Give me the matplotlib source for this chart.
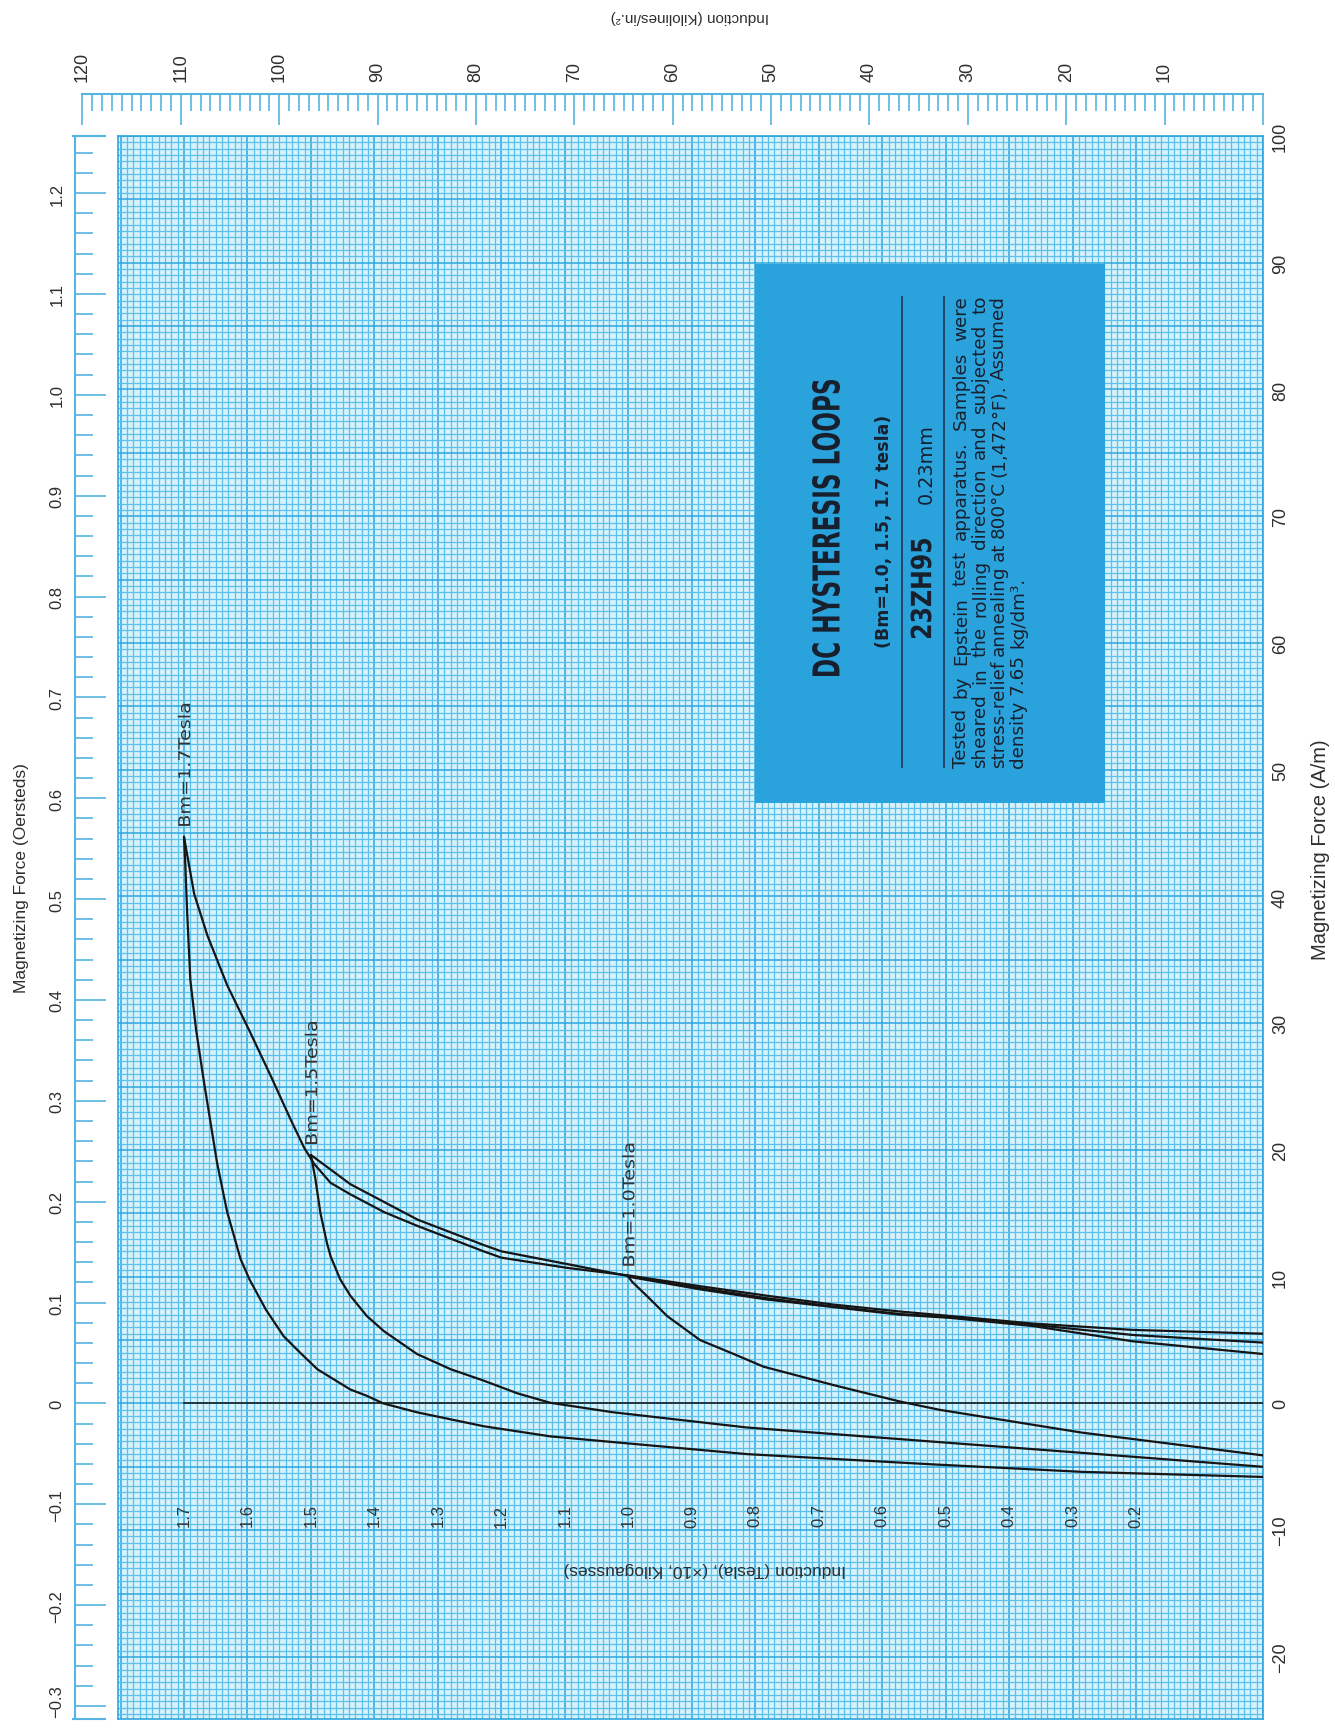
import numpy as np
import matplotlib
matplotlib.use("Agg")
import matplotlib.pyplot as plt
from matplotlib.ticker import MultipleLocator, FuncFormatter, NullLocator
from matplotlib.transforms import Affine2D, blended_transform_factory, IdentityTransform
from matplotlib.patches import Rectangle, PathPatch
from matplotlib.lines import Line2D
from matplotlib.textpath import TextPath
from matplotlib.font_manager import FontProperties

plt.rcParams['font.family'] = ['Liberation Sans', 'DejaVu Sans']

# ------------------------------------------------------------------ data
# Bm = 1.7 T loop : descending branch (from tip) and ascending branch (to tip)
B17_DESC = [1.700, 1.698, 1.695, 1.690, 1.681, 1.669, 1.648, 1.632, 1.624, 1.611,
            1.597, 1.571, 1.543, 1.517, 1.490, 1.464, 1.438, 1.412, 1.386, 1.333,
            1.228, 1.123, 1.024, 0.813, 0.524, 0.285, 0.0]
H17_DESC = [44.7, 42.6, 38.7, 33.4, 29.5, 25.5, 19.0, 15.1, 13.7, 11.4,
            9.8, 7.4, 5.3, 4.0, 2.7, 1.9, 1.1, 0.6, 0.0, -0.7,
            -1.8, -2.6, -3.05, -4.0, -4.8, -5.4, -5.8]
B17_ASC = [0.0, 0.205, 0.362, 0.493, 0.572, 0.677, 0.782, 0.887, 1.000, 1.097,
           1.200, 1.228, 1.332, 1.385, 1.438, 1.469, 1.495, 1.511, 1.532, 1.563,
           1.595, 1.632, 1.663, 1.684, 1.700]
H17_ASC = [5.5, 5.8, 6.3, 6.9, 7.25, 7.8, 8.5, 9.25, 10.1, 10.7,
           11.5, 12.0, 14.0, 15.1, 16.5, 17.4, 18.9, 20.2, 22.4, 25.8,
           29.2, 33.0, 36.9, 40.2, 44.7]

# Bm = 1.5 T loop
B15_DESC = [1.500, 1.493, 1.485, 1.475, 1.469, 1.454, 1.438, 1.412, 1.385, 1.333,
            1.280, 1.228, 1.175, 1.123, 1.024, 0.813, 0.524, 0.285, 0.0]
H15_DESC = [19.6, 17.7, 15.0, 12.7, 11.6, 9.8, 8.5, 6.9, 5.7, 3.9,
            2.7, 1.8, 0.8, 0.05, -0.7, -1.9, -3.0, -3.9, -5.0]
B15_ASC = [0.0, 0.205, 0.362, 0.493, 0.572, 0.677, 0.782, 0.887, 1.000, 1.097,
           1.200, 1.228, 1.332, 1.438, 1.500]
H15_ASC = [4.8, 5.4, 6.2, 6.8, 7.05, 7.65, 8.3, 9.1, 10.05, 11.0,
           12.0, 12.5, 14.5, 17.3, 19.6]

# Bm = 1.0 T loop
B10_DESC = [1.000, 0.994, 0.965, 0.939, 0.887, 0.834, 0.787, 0.677, 0.572, 0.510,
            0.286, 0.0]
H10_DESC = [10.0, 9.6, 8.2, 6.9, 5.0, 3.9, 2.9, 1.45, 0.15, -0.5,
            -2.3, -4.1]
B10_ASC = [0.0, 0.205, 0.362, 0.493, 0.572, 0.677, 0.782, 0.887, 1.000]
H10_ASC = [3.9, 4.9, 6.1, 6.75, 7.0, 7.6, 8.2, 9.0, 10.0]

LOOP_LABELS = ["Bm=1.7Tesla", "Bm=1.5Tesla", "Bm=1.0Tesla"]

TESLA_LABELS = [1.7, 1.6, 1.5, 1.4, 1.3, 1.2, 1.1, 1.0, 0.9, 0.8, 0.7, 0.6, 0.5, 0.4, 0.3, 0.2]
OE_LABELS = [-0.3, -0.2, -0.1, 0.0, 0.1, 0.2, 0.3, 0.4, 0.5, 0.6, 0.7, 0.8, 0.9, 1.0, 1.1, 1.2]
H_AXIS_END_B = 1.70          # H = 0 reference line drawn from B = 0 to here

OE_PER_AM = 4 * np.pi / 1000.0      # 1 A/m = 0.012566 Oe
KL_PER_T = 64.516                    # kilolines / in^2 per tesla
KL_MAX = 120

BOX_TITLE = "DC HYSTERESIS LOOPS"
BOX_SUB = "(Bm=1.0, 1.5, 1.7 tesla)"
BOX_GRADE = "23ZH95"
BOX_THICK = "0.23mm"
BOX_PARA = ["Tested by Epstein test apparatus. Samples were",
            "sheared in the rolling direction and subjected to",
            "stress-relief annealing at 800\u00b0C (1,472\u00b0F). Assumed",
            "density 7.65 kg/dm\u00b3."]

# ------------------------------------------------------------------ style
GRID_FACE = '#d6f2fc'
GRID_MINOR = '#5cc0ea'
GRID_MAJOR = '#2ea6de'
RULER = '#55b5e0'
BOX = '#2aa2dc'
INK = '#18202e'
TXT = '#2e2e2e'

FIG_W, FIG_H, DPI = 1335, 1731, 100
fig = plt.figure(figsize=(FIG_W / DPI, FIG_H / DPI), dpi=DPI, facecolor='white')
pxT = Affine2D().scale(1.0 / FIG_W, -1.0 / FIG_H).translate(0, 1) + fig.transFigure

AX_L, AX_R, AX_T, AX_B = 118, 1263, 137, 1720
B_LEFT, H_BOTTOM, H_TOP = 1.804, -24.9, 100.0

ax = fig.add_axes([AX_L / FIG_W, 1 - AX_B / FIG_H, (AX_R - AX_L) / FIG_W, (AX_B - AX_T) / FIG_H])
ax.set_xlim(B_LEFT, 0.0)
ax.set_ylim(H_BOTTOM, H_TOP)
ax.set_facecolor(GRID_FACE)
ax.set_axisbelow(True)

ax.xaxis.set_major_locator(MultipleLocator(0.1))
ax.xaxis.set_minor_locator(MultipleLocator(0.01))
ax.yaxis.set_major_locator(MultipleLocator(5))
ax.yaxis.set_minor_locator(MultipleLocator(0.5))
ax.grid(which='minor', color=GRID_MINOR, lw=0.9)
ax.grid(which='major', color=GRID_MAJOR, lw=1.1)
for sp in ax.spines.values():
    sp.set_color(GRID_MAJOR)
    sp.set_linewidth(1.2)


def num(v, nd=1):
    if abs(v) < 1e-9:
        return '0'
    return f'{v:.{nd}f}'.replace('-', '\u2212')


def h_fmt(v, p):
    if abs(v / 10 - round(v / 10)) < 1e-6:
        return num(v, 0)
    return ''


ax.yaxis.tick_right()
ax.yaxis.set_major_formatter(FuncFormatter(h_fmt))
ax.tick_params(axis='y', which='both', length=0, labelsize=13, labelcolor=TXT,
               labelrotation=90, pad=6.5)
ax.tick_params(axis='x', which='both', length=0, labelbottom=False)
for t in ax.get_yticklabels():
    t.set_verticalalignment('center')

# ------------------------------------------------------------------ curves
curves = [(B17_DESC, H17_DESC), (B17_ASC, H17_ASC),
          (B15_DESC, H15_DESC), (B15_ASC, H15_ASC),
          (B10_DESC, H10_DESC), (B10_ASC, H10_ASC)]
for bb, hh in curves:
    ax.plot(bb, hh, color='#151515', lw=1.6, solid_capstyle='round',
            solid_joinstyle='round', zorder=4)
ax.plot([0.0, H_AXIS_END_B], [0.0, 0.0], color='#151515', lw=1.1, zorder=4)

# Tesla labels inside plot
transB = blended_transform_factory(ax.transData, pxT)
for b in TESLA_LABELS:
    ax.text(b, 1516, f'{b:.1f}', transform=transB, rotation=90, ha='center', va='center',
            fontsize=12, color='#333333', zorder=5)

# ------------------------------------------------------------------ Oersted ruler
sec = ax.secondary_yaxis((75 - AX_L) / (AX_R - AX_L),
                         functions=(lambda h: np.asarray(h) * OE_PER_AM,
                                    lambda o: np.asarray(o) / OE_PER_AM))
sec.yaxis.set_major_locator(MultipleLocator(0.1))
sec.yaxis.set_minor_locator(MultipleLocator(0.02))
sec.tick_params(which='major', direction='in', length=22, width=1.2, color=RULER,
                labelleft=False, labelright=False)
sec.tick_params(which='minor', direction='in', length=13, width=1.2, color=RULER)
for s in sec.spines.values():
    s.set_color(RULER)
    s.set_linewidth(1.5)
for yy in (AX_T, AX_B):
    fig.add_artist(Line2D([73, 105], [yy, yy], transform=pxT, color=RULER, lw=1.5))

# Oersted labels (placed through the data transform; lowest one kept on the page)
for oe in OE_LABELS:
    xd, yd = ax.transData.transform((0.0, oe / OE_PER_AM))
    yd = max(yd, 29.0)
    fig.text(57, yd, num(oe, 1), transform=IdentityTransform(), rotation=90,
             ha='center', va='center', fontsize=12, color=TXT)

# ------------------------------------------------------------------ Kilolines ruler
px_per_T = (AX_R - AX_L) / B_LEFT
kl_left = AX_R - (KL_MAX / KL_PER_T) * px_per_T
axk = fig.add_axes([kl_left / FIG_W, 1 - 125 / FIG_H, (AX_R - kl_left) / FIG_W, 30 / FIG_H])
axk.set_xlim(KL_MAX, 0)
axk.set_ylim(0, 1)
axk.patch.set_alpha(0)
for k in ('left', 'right', 'bottom'):
    axk.spines[k].set_visible(False)
axk.spines['top'].set_color(RULER)
axk.spines['top'].set_linewidth(1.5)
axk.yaxis.set_major_locator(NullLocator())
axk.xaxis.tick_top()
axk.xaxis.set_major_locator(MultipleLocator(10))
axk.xaxis.set_minor_locator(MultipleLocator(1))
axk.xaxis.set_major_formatter(FuncFormatter(lambda v, p: '' if abs(v) < 1e-9 else f'{v:.0f}'))
axk.tick_params(which='major', direction='in', length=22, width=1.2, color=RULER,
                labelsize=13, labelcolor=TXT, labelrotation=90, pad=9)
axk.tick_params(which='minor', direction='in', length=12, width=1.2, color=RULER)

# ------------------------------------------------------------------ axis titles
fig.text(22, 878, 'Magnetizing Force (Oersteds)', transform=pxT, rotation=90,
         ha='center', va='center', fontsize=12.5, color=TXT)
fig.text(1320, 850, 'Magnetizing Force (A/m)', transform=pxT, rotation=90,
         ha='center', va='center', fontsize=14.5, color=TXT)
fig.text(690, 17, 'Induction (Kilolines/in.\u00b2)', transform=pxT, rotation=180,
         ha='center', va='center', fontsize=11, color=TXT)
fig.text(705, 1570, 'Induction (Tesla), (\u00d710, Kilogausses)', transform=pxT, rotation=180,
         ha='center', va='center', fontsize=12.5, color=TXT, zorder=6)

# ------------------------------------------------------------------ text helpers
renderer = fig.canvas.get_renderer()


def shaped_text(s, xc_disp, yb_disp, length, height, weight='bold', color=INK,
                family='DejaVu Sans', zorder=5):
    """Text drawn bottom-to-top, stretched to a given length and glyph height (display px)."""
    fp = FontProperties(family=family, weight=weight)
    tp = TextPath((0, 0), s, size=100, prop=fp)
    ext = tp.get_extents()
    sx = length / ext.width
    sy = height / ext.height
    tr = (Affine2D().translate(-ext.x0, -ext.y0).scale(sx, sy).rotate_deg(90)
          .translate(xc_disp + height / 2.0, yb_disp))
    fig.add_artist(PathPatch(tp, transform=tr, facecolor=color, edgecolor='none', lw=0,
                             zorder=zorder))


def fitted_text(s, x, yb, length, weight='normal', family=('DejaVu Sans',), va='center', color=INK):
    t = fig.text(x, yb, s, transform=pxT, rotation=90, rotation_mode='anchor',
                 ha='left', va=va, fontsize=12, fontweight=weight, family=list(family),
                 color=color, zorder=5)
    h = t.get_window_extent(renderer).height
    t.set_fontsize(12 * length / h)
    return t


# loop labels above each tip
tips = [(B17_DESC[0], H17_DESC[0]), (B15_DESC[0], H15_DESC[0]), (B10_DESC[0], H10_DESC[0])]
for (bt, ht), lab in zip(tips, LOOP_LABELS):
    xd, yd = ax.transData.transform((bt, ht))
    shaped_text(lab, xd, yd + 11, 122, 12.5, weight='normal', color='#333333')

# ------------------------------------------------------------------ info box
fig.add_artist(Rectangle((755, 265), 350, 539, transform=pxT, facecolor=BOX,
                         edgecolor='none', zorder=3))

shaped_text(BOX_TITLE, 826, FIG_H - 677, 296, 28)
fitted_text(BOX_SUB, 884, 648, 233, weight='bold')
shaped_text(BOX_GRADE, 921, FIG_H - 639, 99, 21)
fitted_text(BOX_THICK, 932, 504, 80, va='baseline')
for xx in (902, 944):
    fig.add_artist(Line2D([xx, xx], [298, 768], transform=pxT, color='#1d3656', lw=1.2, zorder=5))

# justified paragraph
PARA_X = [966, 985, 1004, 1023]
PARA_Y0, PARA_LEN = 768, 472
probe = fig.text(0, 0, BOX_PARA[-1], rotation=90, fontsize=12, family=['DejaVu Sans'])
fs = 12 * 208 / probe.get_window_extent(renderer).height
probe.remove()


def word_lengths(words, size):
    out = []
    for w in words:
        t = fig.text(0, 0, w, rotation=90, fontsize=size, family=['DejaVu Sans'])
        out.append(t.get_window_extent(renderer).height)
        t.remove()
    return out


for line in BOX_PARA[:-1]:
    ws = line.split(' ')
    need = sum(word_lengths(ws, fs)) + 0.25 * fs * 1.39 * (len(ws) - 1)
    if need > PARA_LEN:
        fs *= PARA_LEN / need

for i, (line, xx) in enumerate(zip(BOX_PARA, PARA_X)):
    ws = line.split(' ')
    wl = word_lengths(ws, fs)
    if i < len(BOX_PARA) - 1:
        gap = (PARA_LEN - sum(wl)) / (len(ws) - 1)
    else:
        gap = 0.32 * fs * 1.39
    y = PARA_Y0
    for w, l in zip(ws, wl):
        fig.text(xx, y, w, transform=pxT, rotation=90, rotation_mode='anchor',
                 ha='left', va='baseline', fontsize=fs, family=['DejaVu Sans'],
                 color=INK, zorder=5)
        y -= l + gap

fig.savefig('out.png', dpi=DPI, facecolor='white')
